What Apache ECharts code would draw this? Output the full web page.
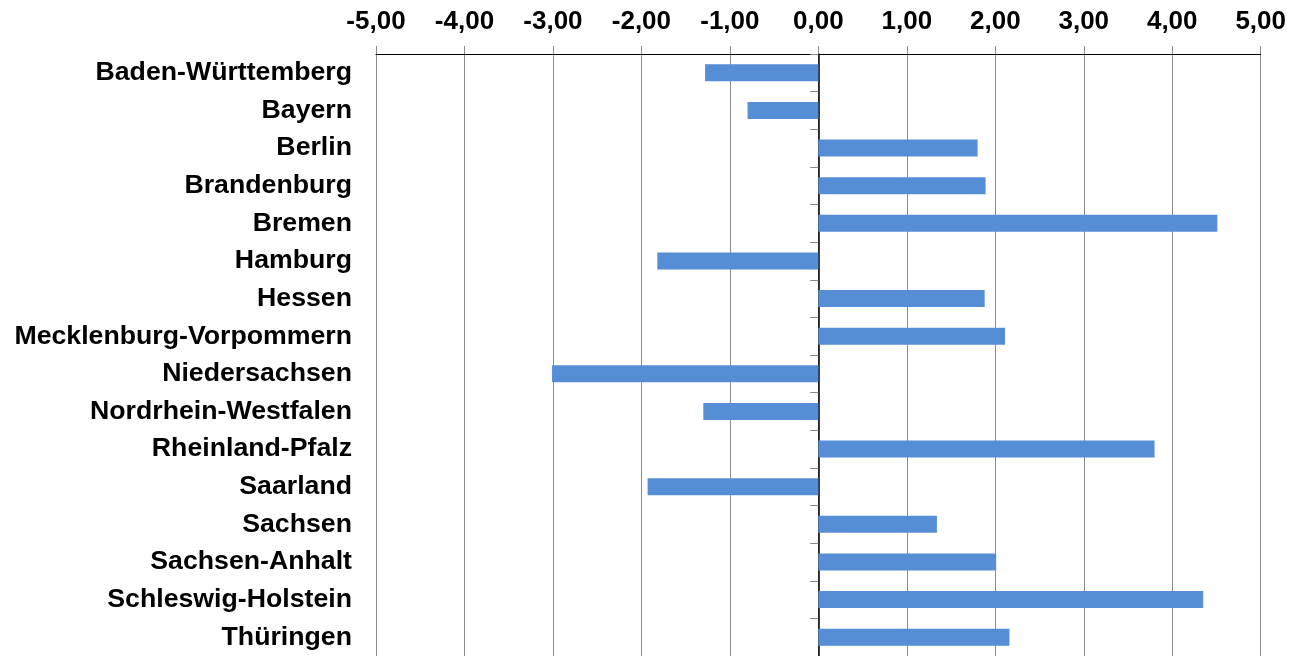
<!DOCTYPE html>
<html>
<head>
<meta charset="utf-8">
<script src="https://cdn.jsdelivr.net/npm/echarts@6/dist/echarts.min.js"></script>
<style>
html,body{margin:0;padding:0;background:#fff;}
#chart{width:1289px;height:656px;}
</style>
</head>
<body>
<div id="chart"></div>
<script>
var categories = ["Baden-Württemberg","Bayern","Berlin","Brandenburg","Bremen","Hamburg","Hessen","Mecklenburg-Vorpommern","Niedersachsen","Nordrhein-Westfalen","Rheinland-Pfalz","Saarland","Sachsen","Sachsen-Anhalt","Schleswig-Holstein","Thüringen"];
var values = [-1.28,-0.80,1.80,1.89,4.51,-1.82,1.88,2.11,-3.01,-1.30,3.80,-1.93,1.34,2.01,4.35,2.16];
var xMin = -5, xMax = 5, xStep = 1;

var chart = echarts.init(document.getElementById('chart'));
var font = 'Liberation Sans, Arial, sans-serif';
chart.setOption({
  animation: false,
  grid: {left: 376, right: 28, top: 54, height: 606, containLabel: false},
  xAxis: {
    type: 'value', position: 'top', min: xMin, max: xMax, interval: xStep,
    axisLine: {show: true, onZero: false, lineStyle: {color: '#000', width: 1}},
    axisTick: {show: true, inside: false, length: 8, lineStyle: {color: '#888'}},
    splitLine: {show: true, lineStyle: {color: '#8c8c8c', width: 1}},
    axisLabel: {margin: 19, color: '#000', fontWeight: 'bold', fontSize: 26, fontFamily: font,
      formatter: function(v){ return v.toFixed(2).replace('.', ','); }}
  },
  yAxis: [{
    type: 'category', inverse: true, data: categories, position: 'left',
    axisLine: {show: false, onZero: false},
    axisTick: {show: false},
    axisLabel: {margin: 24, color: '#000', fontWeight: 'bold', fontSize: 26.7, fontFamily: font, interval: 0,
      padding: [4, 0, 0, 0]}
  }, {
    type: 'category', inverse: true, data: categories, position: 'left',
    axisLine: {show: true, onZero: true, lineStyle: {color: '#000', width: 1.5}},
    axisTick: {show: true, length: 8, lineStyle: {color: '#888'}},
    axisLabel: {show: false}
  }],
  series: [{
    type: 'bar', data: values, yAxisIndex: 0, barWidth: 17,
    itemStyle: {color: '#558ED5'}
  }]
});
</script>
</body>
</html>
